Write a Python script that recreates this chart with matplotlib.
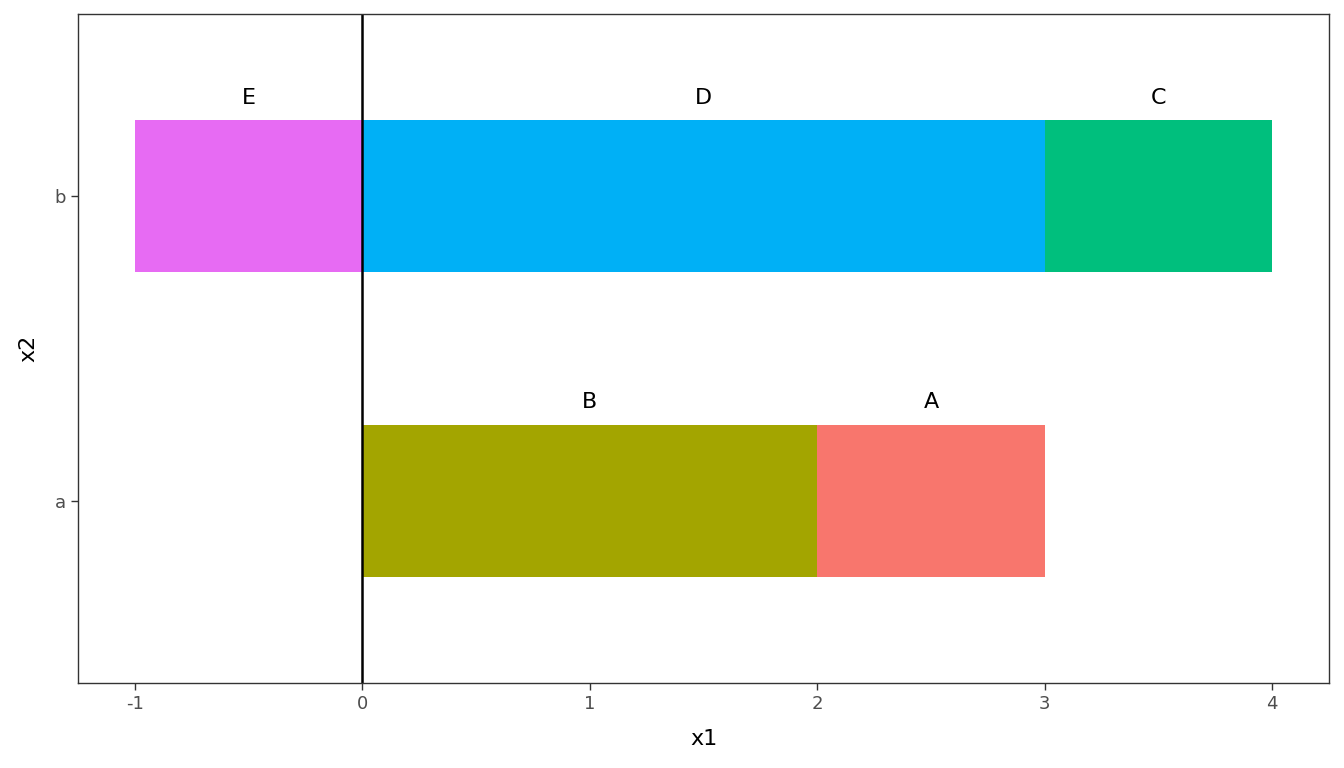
import matplotlib.pyplot as plt

# stacked segments per group
groups = ['a', 'b']
seg_group = ['a', 'a', 'b', 'b', 'b']
seg_label = ['B', 'A', 'E', 'D', 'C']
seg_start = [0, 2, -1, 0, 3]
seg_width = [2, 1, 1, 3, 1]
seg_color = ['#A3A500', '#F8766D', '#E76BF3', '#00B0F6', '#00BF7D']

fig = plt.figure(figsize=(13.44, 7.68), dpi=100)
ax = fig.add_axes([78/1344, 1-683/768, (1329-78)/1344, (683-14)/768])

ypos = {g: i + 1 for i, g in enumerate(groups)}
for g, lab, s, w, c in zip(seg_group, seg_label, seg_start, seg_width, seg_color):
    y = ypos[g]
    ax.barh(y, w, left=s, height=0.5, color=c, edgecolor='none')
    ax.text(s + w / 2, y + 0.325, lab, ha='center', va='center', fontsize=16, color='black')

ax.axvline(0, color='black', linewidth=1.8)

ax.set_xlim(-1.25, 4.25)
ax.set_ylim(0.4, 2.6)
ax.set_xticks([-1, 0, 1, 2, 3, 4])
ax.set_xticklabels(['-1', '0', '1', '2', '3', '4'])
ax.set_yticks([ypos[g] for g in groups])
ax.set_yticklabels(groups)
ax.tick_params(colors='#333333', labelcolor='#4D4D4D', labelsize=13, length=5, width=1)
ax.set_xlabel('x1', fontsize=16, labelpad=12)
ax.set_ylabel('x2', fontsize=16, labelpad=12)
for sp in ax.spines.values():
    sp.set_color('#333333')
    sp.set_linewidth(1)

plt.savefig('out.png', dpi=100)
